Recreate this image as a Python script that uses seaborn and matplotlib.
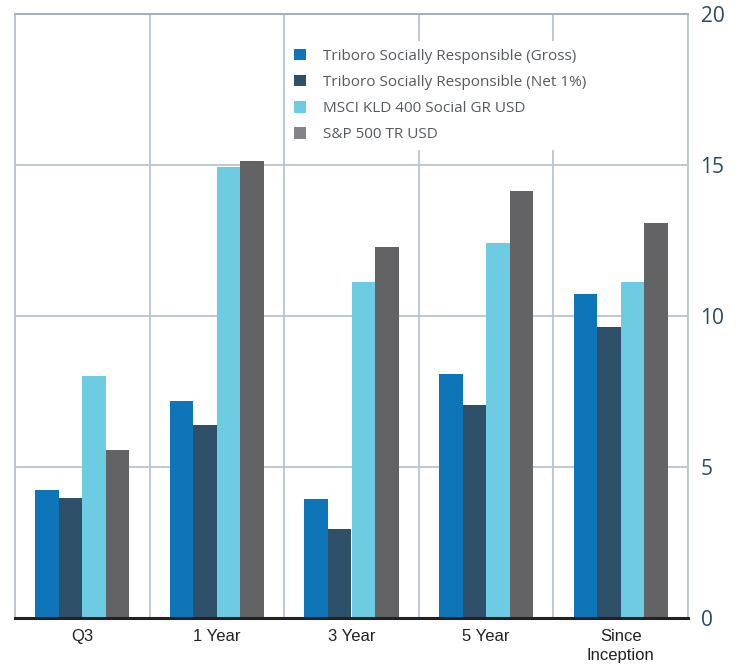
import matplotlib
matplotlib.use("Agg")
import matplotlib.pyplot as plt
import seaborn as sns
import pandas as pd
from matplotlib.patches import Patch

# Period labels and annualised returns (%) per series
periods = ["Q3", "1 Year", "3 Year", "5 Year", "Since\nInception"]
series = [
    "Triboro Socially Responsible (Gross)",
    "Triboro Socially Responsible (Net 1%)",
    "MSCI KLD 400 Social GR USD",
    "S&P 500 TR USD",
]
gross = [4.24, 7.19, 3.94, 8.08, 10.73]
net = [3.98, 6.39, 2.95, 7.05, 9.64]
msci = [8.01, 14.93, 11.13, 12.42, 11.13]
sp500 = [5.56, 15.13, 12.28, 14.14, 13.08]
y_ticks = [0, 5, 10, 15, 20]

colors = ["#0e75b9", "#2f5069", "#6dcce2", "#636365"]
legend_colors = ["#0e75b9", "#2f5069", "#6dcce2", "#838388"]

df = pd.DataFrame({
    "period": periods * 4,
    "series": sum([[s] * len(periods) for s in series], []),
    "value": gross + net + msci + sp500,
})

sns.set_theme(style="white")
plt.rcParams["font.family"] = ["Open Sans", "DejaVu Sans"]

fig = plt.figure(figsize=(7.38, 6.67), dpi=100)
ax = fig.add_axes([15 / 738, 1 - 618 / 667, (688 - 15) / 738, (618 - 14.3) / 667])

sns.barplot(data=df, x="period", y="value", hue="series", order=periods,
            hue_order=series, palette=colors, width=0.7, saturation=1,
            linewidth=0, ax=ax, legend=False)

ax.set_xlim(-0.5, len(periods) - 0.5)
ax.set_ylim(0, 20)
ax.set_yticks(y_ticks)
ax.yaxis.tick_right()
ax.tick_params(axis="y", length=0, pad=9, labelsize=15, labelcolor="#2e4a62")
ax.tick_params(axis="x", length=0, pad=8, labelsize=12, labelcolor="#222222")
for lab in ax.get_xticklabels():
    lab.set_family(["Liberation Sans Narrow", "Liberation Sans", "DejaVu Sans"])
    lab.set_linespacing(1.3)
ax.set_xlabel("")
ax.set_ylabel("")

# category separators and value gridlines
ax.set_xticks([i - 0.5 for i in range(len(periods) + 1)], minor=True)
ax.tick_params(axis="x", which="minor", length=0)
ax.grid(True, which="minor", axis="x", color="#b9c5cf", linewidth=1.3)
ax.grid(True, which="major", axis="y", color="#b9c5cf", linewidth=1.3)
ax.set_axisbelow(True)

for side in ["left", "right", "top"]:
    ax.spines[side].set_visible(True)
    ax.spines[side].set_color("#b9c5cf")
    ax.spines[side].set_linewidth(1.3)
ax.spines["top"].set_color("#9eacb8")
ax.spines["bottom"].set_color("#222222")
ax.spines["bottom"].set_linewidth(2.2)

handles = [Patch(facecolor=c, edgecolor="none") for c in legend_colors]
leg = fig.legend(handles, series, loc="upper left",
                 bbox_to_anchor=(286 / 738, 1 - 41 / 667),
                 frameon=True, fancybox=False, framealpha=1,
                 facecolor="white", edgecolor="none",
                 fontsize=11, handlelength=0.8, handleheight=0.8,
                 handletextpad=1.1, labelspacing=0.72, borderpad=0.5,
                 borderaxespad=0)
for t in leg.get_texts():
    t.set_color("#555a5f")

fig.savefig("out.png", dpi=100)
